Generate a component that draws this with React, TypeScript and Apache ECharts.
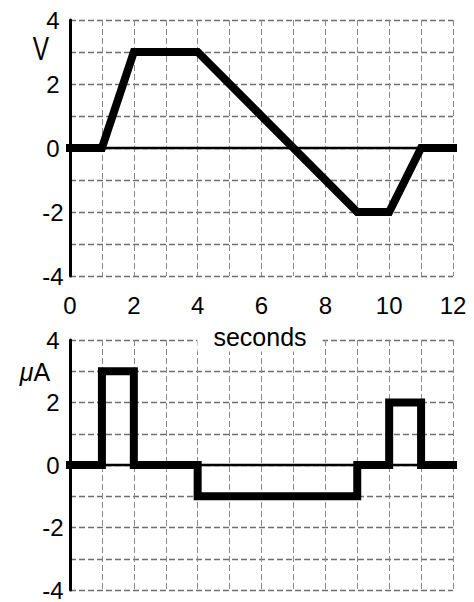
import React, { useEffect, useRef } from "react";
import * as echarts from "echarts";

const timeV = [0, 1, 2, 4, 9, 10, 11, 12];
const voltage = [0, 0, 3, 3, -2, -2, 0, 0];
const timeI = [0, 1, 1, 2, 2, 4, 4, 9, 9, 10, 10, 11, 11, 12];
const current = [0, 0, 3, 3, 0, 0, -1, -1, 0, 0, 2, 2, 0, 0];
const xTickLabels = ["0", "2", "4", "6", "8", "10", "12"];
const yTickLabels = ["-4", "-2", "0", "2", "4"];
const xName = "seconds";
const yNameTop = "V";
const yNameBottom = "μA";

const FONT = "'Liberation Sans', Arial, Helvetica, sans-serif";

export default function App() {
  const ref = useRef<HTMLDivElement>(null);
  useEffect(() => {
    document.body.style.margin = "0";
    if (!ref.current) return;
    const chart = echarts.init(ref.current, undefined, { renderer: "svg" });

    const grids = [
      { left: 70, top: 20, width: 383, height: 256 },
      { left: 70, top: 340, width: 383, height: 256 },
    ];

    const xAxisFor = (i: number, showLabels: boolean) => ({
      type: "value",
      gridIndex: i,
      min: 0,
      max: 12,
      interval: 1,
      axisLine: { show: false },
      axisTick: { show: false },
      axisLabel: {
        show: showLabels,
        margin: 17,
        fontSize: 24,
        color: "#000",
        fontFamily: FONT,
        formatter: (v: number) => (xTickLabels.includes(String(v)) ? String(v) : ""),
      },
      splitLine: {
        show: true,
        lineStyle: { color: "#8a8a8a", width: 1, type: [6, 3] },
      },
    });

    const yAxisFor = (i: number) => ({
      type: "value",
      gridIndex: i,
      min: -4,
      max: 4,
      interval: 1,
      axisLine: { show: true, onZero: false, lineStyle: { color: "#000", width: 3 } },
      axisTick: { show: false },
      axisLabel: {
        margin: 17,
        align: "center",
        fontSize: 24,
        color: "#000",
        fontFamily: FONT,
        formatter: (v: number) => (yTickLabels.includes(String(v)) ? String(v) : ""),
      },
      splitLine: {
        show: true,
        lineStyle: { color: "#6e6e6e", width: 1.4, type: [6, 3] },
      },
    });

    const zeroLine = {
      silent: true,
      symbol: ["none", "none"],
      label: { show: false },
      lineStyle: { color: "#000", width: 2.3, type: "solid" },
      data: [{ yAxis: 0 }],
    };

    const thick = { color: "#000", width: 8, cap: "square", join: "miter" };

    chart.setOption({
      animation: false,
      grid: grids,
      xAxis: [xAxisFor(0, true), xAxisFor(1, false)],
      yAxis: [yAxisFor(0), yAxisFor(1)],
      series: [
        {
          type: "line",
          name: "voltage",
          xAxisIndex: 0,
          yAxisIndex: 0,
          data: timeV.map((t, k) => [t, voltage[k]]),
          showSymbol: false,
          clip: false,
          lineStyle: thick,
          markLine: zeroLine,
        },
        {
          type: "line",
          name: "current",
          xAxisIndex: 1,
          yAxisIndex: 1,
          data: timeI.map((t, k) => [t, current[k]]),
          showSymbol: false,
          clip: false,
          lineStyle: thick,
          markLine: zeroLine,
        },
      ],
      graphic: [
        {
          type: "text",
          z: 100,
          x: 41,
          y: 48,
          scaleX: 0.72,
          style: {
            text: yNameTop,
            fontSize: 34,
            fontFamily: FONT,
            fill: "#000",
            align: "center",
            verticalAlign: "middle",
          },
        },
        {
          type: "text",
          z: 100,
          x: 35,
          y: 372,
          style: {
            text: "{i|μ}{n|A}",
            align: "center",
            verticalAlign: "middle",
            rich: {
              i: { fontSize: 25, fontStyle: "italic", fontFamily: FONT, fill: "#000" },
              n: { fontSize: 25, fontFamily: FONT, fill: "#000" },
            },
          },
        },
        {
          type: "text",
          z: 100,
          x: 260,
          y: 337,
          style: {
            text: xName,
            fontSize: 25,
            fontFamily: FONT,
            fill: "#000",
            align: "center",
            verticalAlign: "middle",
            backgroundColor: "#fff",
            padding: [2, 16, 2, 16],
          },
        },
      ],
    });
    return () => chart.dispose();
  }, []);
  return <div ref={ref} style={{ width: 474, height: 602 }} />;
}
